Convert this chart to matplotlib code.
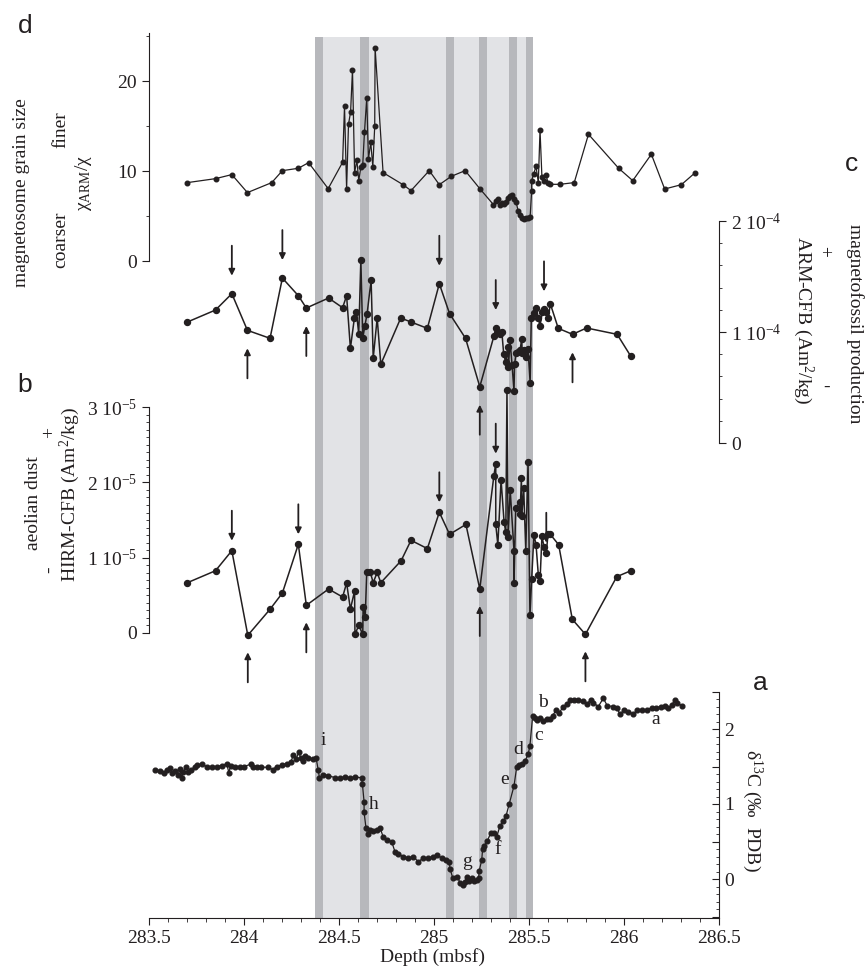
import numpy as np
import matplotlib
matplotlib.use('agg')
import matplotlib.pyplot as plt
from matplotlib.transforms import offset_copy
from matplotlib.ticker import FixedLocator, MultipleLocator

plt.rcParams['font.family'] = ['Liberation Serif', 'DejaVu Serif']
plt.rcParams['mathtext.fontset'] = 'custom'
plt.rcParams['mathtext.rm'] = 'Liberation Serif'
plt.rcParams['mathtext.it'] = 'Liberation Serif:italic'
plt.rcParams['font.size'] = 14

K = '#231f20'

# --- a: d13C (permil PDB) ---
a_depth = [283.530, 283.557, 283.578, 283.593, 283.611, 283.619, 283.637, 283.654, 283.663, 283.672,
           283.681, 283.695, 283.707, 283.719, 283.742, 283.754, 283.777, 283.804, 283.830, 283.856,
           283.883, 283.909, 283.920, 283.930, 283.953, 283.979, 284.000, 284.035, 284.049, 284.070,
           284.088, 284.128, 284.151, 284.172, 284.198, 284.225, 284.246, 284.260, 284.274, 284.288,
           284.298, 284.309, 284.321, 284.339, 284.362, 284.379, 284.391, 284.397, 284.418, 284.444,
           284.479, 284.505, 284.532, 284.558, 284.584, 284.619, 284.623, 284.632, 284.632, 284.642,
           284.651, 284.663, 284.681, 284.702, 284.716, 284.733, 284.754, 284.777, 284.795, 284.812,
           284.838, 284.865, 284.891, 284.917, 284.944, 284.970, 284.996, 285.017, 285.040, 285.063,
           285.081, 285.084, 285.098, 285.123, 285.137, 285.151, 285.163, 285.172, 285.186, 285.198,
           285.210, 285.224, 285.235, 285.238, 285.251, 285.256, 285.263, 285.281, 285.298, 285.316,
           285.330, 285.347, 285.365, 285.379, 285.396, 285.421, 285.435, 285.449, 285.461, 285.479,
           285.496, 285.505, 285.519, 285.532, 285.544, 285.558, 285.575, 285.593, 285.611, 285.625,
           285.642, 285.660, 285.681, 285.698, 285.716, 285.737, 285.760, 285.786, 285.807, 285.825,
           285.839, 285.865, 285.891, 285.912, 285.940, 285.961, 285.979, 286.000, 286.023, 286.049,
           286.070, 286.093, 286.119, 286.146, 286.168, 286.193, 286.216, 286.233, 286.251, 286.268,
           286.281, 286.304]
a_val = [1.45, 1.44, 1.42, 1.45, 1.48, 1.41, 1.44, 1.39, 1.47, 1.35,
         1.43, 1.49, 1.43, 1.45, 1.50, 1.52, 1.53, 1.50, 1.50, 1.50,
         1.51, 1.54, 1.42, 1.51, 1.50, 1.50, 1.50, 1.53, 1.49, 1.50,
         1.49, 1.49, 1.46, 1.50, 1.52, 1.54, 1.56, 1.65, 1.60, 1.69,
         1.62, 1.58, 1.64, 1.62, 1.60, 1.62, 1.45, 1.35, 1.39, 1.38,
         1.35, 1.35, 1.36, 1.35, 1.36, 1.35, 1.27, 1.03, 0.89, 0.68,
         0.60, 0.65, 0.64, 0.65, 0.68, 0.56, 0.52, 0.50, 0.36, 0.34,
         0.30, 0.28, 0.30, 0.23, 0.28, 0.28, 0.30, 0.32, 0.28, 0.26,
         0.23, 0.14, 0.02, 0.03, -0.05, -0.08, -0.04, 0.03, -0.02, 0.02,
         -0.02, -0.01, 0.02, 0.11, 0.25, 0.40, 0.44, 0.51, 0.61, 0.62,
         0.56, 0.71, 0.77, 0.84, 1.00, 1.24, 1.49, 1.52, 1.54, 1.57,
         1.67, 1.78, 2.17, 2.15, 2.12, 2.15, 2.11, 2.14, 2.14, 2.18,
         2.25, 2.22, 2.30, 2.33, 2.39, 2.39, 2.39, 2.37, 2.34, 2.39,
         2.35, 2.30, 2.41, 2.31, 2.30, 2.28, 2.20, 2.25, 2.23, 2.20,
         2.25, 2.25, 2.26, 2.28, 2.28, 2.30, 2.31, 2.28, 2.32, 2.39,
         2.35, 2.31]
a_letters = ['i', 'h', 'g', 'f', 'e', 'd', 'c', 'b', 'a']
a_letter_x = [284.416, 284.684, 285.174, 285.337, 285.374, 285.442, 285.553, 285.574, 286.168]
a_letter_y = [1.85, 0.99, 0.23, 0.39, 1.32, 1.72, 1.92, 2.35, 2.13]

# --- b: HIRM-CFB (1e-5 Am2/kg) ---
b_depth = [283.702, 283.850, 283.936, 284.020, 284.137, 284.202, 284.286, 284.328, 284.445, 284.519,
           284.540, 284.560, 284.582, 284.584, 284.604, 284.625, 284.627, 284.638, 284.646, 284.665,
           284.680, 284.701, 284.720, 284.827, 284.879, 284.965, 285.028, 285.082, 285.168, 285.241,
           285.315, 285.325, 285.325, 285.336, 285.353, 285.369, 285.378, 285.384, 285.390, 285.401,
           285.421, 285.421, 285.430, 285.451, 285.453, 285.460, 285.462, 285.472, 285.483, 285.495,
           285.505, 285.514, 285.526, 285.537, 285.549, 285.558, 285.568, 285.579, 285.591, 285.600,
           285.612, 285.656, 285.728, 285.797, 285.962, 286.036]
b_val = [0.668, 0.827, 1.093, -0.031, 0.315, 0.531, 1.178, 0.367, 0.584, 0.478,
         0.664, 0.319, 0.557, -0.018, 0.102, -0.018, 0.350, 0.212, 0.805, 0.805,
         0.668, 0.805, 0.668, 0.960, 1.231, 1.121, 1.603, 1.310, 1.442, 0.584,
         2.085, 2.249, 1.442, 1.173, 2.032, 1.469, 1.336, 3.230, 1.279, 1.899,
         1.093, 0.668, 1.656, 1.740, 1.575, 2.058, 1.549, 1.925, 1.093, 2.271,
         0.235, 0.717, 1.305, 1.173, 0.774, 0.690, 1.283, 1.146, 1.066, 1.310,
         1.310, 1.173, 0.181, -0.018, 0.748, 0.827]
b_down = [283.936, 284.286, 285.028, 285.325, 285.591]
b_up = [284.020, 284.328, 285.241, 285.797]

# --- c: ARM-CFB (1e-4 Am2/kg) ---
c_depth = [283.702, 283.850, 283.936, 284.018, 284.137, 284.202, 284.286, 284.328, 284.445, 284.519,
           284.540, 284.560, 284.581, 284.592, 284.604, 284.615, 284.625, 284.636, 284.648, 284.669,
           284.680, 284.701, 284.720, 284.825, 284.879, 284.965, 285.028, 285.082, 285.166, 285.241,
           285.315, 285.325, 285.336, 285.348, 285.357, 285.367, 285.378, 285.388, 285.392, 285.400,
           285.411, 285.421, 285.424, 285.432, 285.441, 285.453, 285.462, 285.464, 285.476, 285.485,
           285.495, 285.506, 285.512, 285.524, 285.537, 285.549, 285.558, 285.570, 285.579, 285.591,
           285.602, 285.612, 285.654, 285.729, 285.803, 285.964, 286.036]
c_val = [1.090, 1.198, 1.345, 1.015, 0.943, 1.486, 1.327, 1.216, 1.306, 1.219,
         1.327, 0.853, 1.126, 1.180, 0.979, 1.652, 0.943, 1.054, 1.165, 1.471,
         0.763, 1.126, 0.709, 1.126, 1.090, 1.033, 1.435, 1.165, 0.943, 0.507,
         0.961, 1.036, 1.003, 0.979, 1.000, 0.799, 0.727, 0.868, 0.688, 0.925,
         0.700, 0.471, 0.709, 0.811, 0.823, 0.838, 0.940, 0.808, 0.838, 0.775,
         0.850, 0.543, 1.123, 1.168, 1.219, 1.126, 1.054, 1.180, 1.204, 1.180,
         1.126, 1.255, 1.033, 0.979, 1.036, 0.979, 0.781]
c_down = [283.936, 284.202, 285.028, 285.325, 285.579]
c_up = [284.018, 284.328, 285.241, 285.729]

# --- d: chi_ARM / chi ---
d_depth = [283.702, 283.850, 283.936, 284.018, 284.146, 284.202, 284.286, 284.340, 284.443, 284.519,
           284.529, 284.540, 284.550, 284.561, 284.571, 284.582, 284.594, 284.604, 284.615, 284.625,
           284.634, 284.646, 284.655, 284.667, 284.678, 284.688, 284.690, 284.732, 284.837, 284.879,
           284.975, 285.028, 285.091, 285.164, 285.241, 285.313, 285.325, 285.336, 285.346, 285.357,
           285.369, 285.378, 285.390, 285.401, 285.411, 285.422, 285.432, 285.443, 285.455, 285.464,
           285.476, 285.485, 285.497, 285.506, 285.514, 285.514, 285.524, 285.537, 285.549, 285.558,
           285.568, 285.577, 285.589, 285.600, 285.612, 285.663, 285.738, 285.813, 285.972, 286.046,
           286.144, 286.214, 286.302, 286.375]
d_val = [8.71, 9.15, 9.60, 7.60, 8.71, 10.04, 10.30, 10.93, 8.04, 10.97,
         17.23, 8.00, 15.19, 16.56, 21.26, 9.82, 11.19, 8.93, 10.45, 10.71,
         14.30, 18.11, 11.30, 13.19, 10.49, 14.97, 23.71, 9.82, 8.48, 7.82,
         10.04, 8.48, 9.41, 10.04, 8.04, 6.26, 6.63, 6.93, 6.26, 6.48,
         6.34, 6.56, 7.04, 7.23, 7.37, 6.89, 6.52, 5.60, 5.11, 4.74,
         4.67, 4.74, 4.78, 4.93, 7.78, 8.93, 9.63, 10.52, 8.71, 14.56,
         9.34, 8.93, 9.60, 8.71, 8.52, 8.52, 8.71, 14.08, 10.30, 8.93,
         11.86, 8.00, 8.48, 9.82]

# shaded intervals (mbsf)
zone = (284.374, 285.52)
bands = [(284.374, 284.416), (284.61, 284.66), (285.063, 285.105),
         (285.237, 285.28), (285.395, 285.437), (285.484, 285.52)]

W, H = 866, 976
fig = plt.figure(figsize=(W / 100, H / 100), dpi=100)
X0, X1, YB, YT = 149, 719, 918, 30
rect = [X0 / W, 1 - YB / H, (X1 - X0) / W, (YB - YT) / H]


def px(x, y):
    return x / W, 1 - y / H


def lims(y0, s):
    # y0: pixel row of value 0, s: pixels per data unit
    return (-(YB - y0) / s, (y0 - YT) / s)


def new_ax(side, y0, s, lo, hi, major, minor_step, labels, tickdir):
    ax = fig.add_axes(rect)
    ax.patch.set_visible(False)
    ax.set_xlim(283.5, 286.5)
    ax.set_ylim(*lims(y0, s))
    for sp in ['left', 'right', 'top', 'bottom']:
        ax.spines[sp].set_visible(sp == side)
    ax.spines[side].set_bounds(lo, hi)
    ax.spines[side].set_color(K)
    ax.tick_params(axis='x', which='both', bottom=False, labelbottom=False)
    if side == 'right':
        ax.yaxis.tick_right()
    i0 = int(np.ceil(lo / minor_step - 1e-6))
    i1 = int(np.floor(hi / minor_step + 1e-6))
    ax.yaxis.set_major_locator(FixedLocator(major))
    ax.set_yticklabels(labels)
    ax.yaxis.set_minor_locator(FixedLocator([i * minor_step for i in range(i0, i1 + 1)]))
    ax.tick_params(axis='y', which='both', direction=tickdir, colors=K, labelsize=14)
    ax.tick_params(axis='y', which='major', length=5)
    ax.tick_params(axis='y', which='minor', length=2.5)
    return ax


def arrows(ax, xs, ys, at, down, gap, length):
    xs = np.asarray(xs)
    sgn = 1 if down else -1
    for d in at:
        i = int(np.argmin(np.abs(xs - d)))
        tip = offset_copy(ax.transData, fig=fig, x=0, y=sgn * gap, units='dots')
        tail = offset_copy(ax.transData, fig=fig, x=0, y=sgn * (gap + length), units='dots')
        ax.annotate('', xy=(xs[i], ys[i]), xycoords=tip, xytext=(xs[i], ys[i]), textcoords=tail,
                    arrowprops=dict(arrowstyle='-|>', color=K, lw=1.3, shrinkA=0, shrinkB=0,
                                    mutation_scale=9))


# panel a (also carries the depth axis and the shading)
ax_a = new_ax('right', 879, 75, -0.52, 2.5, [-0.5, 0, 0.5, 1, 1.5, 2, 2.5], 0.1,
              ['', '0', '', '1', '', '2', ''], 'in')
ax_a.spines['bottom'].set_visible(True)
ax_a.spines['bottom'].set_color(K)
top = (YB - 37) / (YB - YT)
ax_a.axvspan(*zone, ymin=0, ymax=top, color='#e2e3e6', lw=0, zorder=0)
for b0, b1 in bands:
    ax_a.axvspan(b0, b1, ymin=0, ymax=top, color='#b7b8bc', lw=0, zorder=0)
ax_a.plot(a_depth, a_val, '-o', color=K, lw=0.9, ms=3.4, zorder=3)
for t, x, y in zip(a_letters, a_letter_x, a_letter_y):
    ax_a.text(x, y, t, ha='center', va='center', fontsize=14, color=K)
ax_a.set_xticks([283.5, 284, 284.5, 285, 285.5, 286, 286.5])
ax_a.set_xticklabels(['283.5', '284', '284.5', '285', '285.5', '286', '286.5'])
ax_a.xaxis.set_minor_locator(MultipleLocator(0.1))
ax_a.tick_params(axis='x', which='both', bottom=True, labelbottom=True, direction='out', colors=K, labelsize=14)
ax_a.tick_params(axis='x', which='major', length=5)
ax_a.tick_params(axis='x', which='minor', length=3)

# panel b
b_si = np.array(b_val) * 1e-5
ax_b = new_ax('left', 633, 75.3e5, 0, 3e-5, [0, 1e-5, 2e-5, 3e-5], 1e-6,
              ['0', r'1 10$^{-5}$', r'2 10$^{-5}$', r'3 10$^{-5}$'], 'out')
ax_b.plot(b_depth, b_si, '-o', color=K, lw=1.1, ms=4.3, zorder=3)
arrows(ax_b, b_depth, b_si, b_down, True, 10, 30)
arrows(ax_b, b_depth, b_si, b_up, False, 17, 30)

# panel c
c_si = np.array(c_val) * 1e-4
ax_c = new_ax('right', 443, 1.11e6, 0, 2e-4, [0, 1e-4, 2e-4], 2e-5,
              ['0', r'1 10$^{-4}$', r'2 10$^{-4}$'], 'out')
ax_c.plot(c_depth, c_si, '-o', color=K, lw=1.1, ms=4.3, zorder=3)
arrows(ax_c, c_depth, c_si, c_down, True, 18, 30)
arrows(ax_c, c_depth, c_si, c_up, False, 18, 30)

# panel d
ax_d = new_ax('left', 261, 9, 0, 25.3, [0, 10, 20], 5, ['0', '10', '20'], 'out')
ax_d.plot(d_depth, d_val, '-o', color=K, lw=0.9, ms=3.3, zorder=3)

# axis titles
fig.text(*px(433, 957), 'Depth (mbsf)', ha='center', va='center', fontsize=14, color=K)
fig.text(*px(22, 193), 'magnetosome grain size', rotation=90, ha='center', va='center', fontsize=14, color=K)
fig.text(*px(61, 240), 'coarser', rotation=90, ha='center', va='center', fontsize=14, color=K)
fig.text(*px(61, 130), 'finer', rotation=90, ha='center', va='center', fontsize=14, color=K)
fig.text(*px(83, 183), r'χ$_{\mathrm{ARM}}$/χ', rotation=90, ha='center', va='center', fontsize=14, color=K)
fig.text(*px(855, 324), 'magnetofossil production', rotation=270, ha='center', va='center', fontsize=14, color=K)
fig.text(*px(827, 255), '+', ha='center', va='center', fontsize=14, color=K)
fig.text(*px(827, 387), '-', ha='center', va='center', fontsize=14, color=K)
fig.text(*px(803, 320), r'ARM-CFB (Am$^2$/kg)', rotation=270, ha='center', va='center', fontsize=14, color=K)
fig.text(*px(33, 503), 'aeolian dust', rotation=90, ha='center', va='center', fontsize=14, color=K)
fig.text(*px(50, 433), '+', rotation=90, ha='center', va='center', fontsize=14, color=K)
fig.text(*px(50, 570), '-', rotation=90, ha='center', va='center', fontsize=14, color=K)
fig.text(*px(70, 495), r'HIRM-CFB (Am$^2$/kg)', rotation=90, ha='center', va='center', fontsize=14, color=K)
fig.text(*px(752, 810), r'δ$^{13}$C (‰  PDB)', rotation=270, ha='center', va='center', fontsize=14, color=K)

# panel letters
for t, x, y in [('d', 25, 26), ('b', 25, 385), ('c', 852, 164), ('a', 760, 683)]:
    fig.text(*px(x, y), t, ha='center', va='center', fontsize=19, color=K, family='Liberation Sans')

fig.savefig('out.png', dpi=100)
